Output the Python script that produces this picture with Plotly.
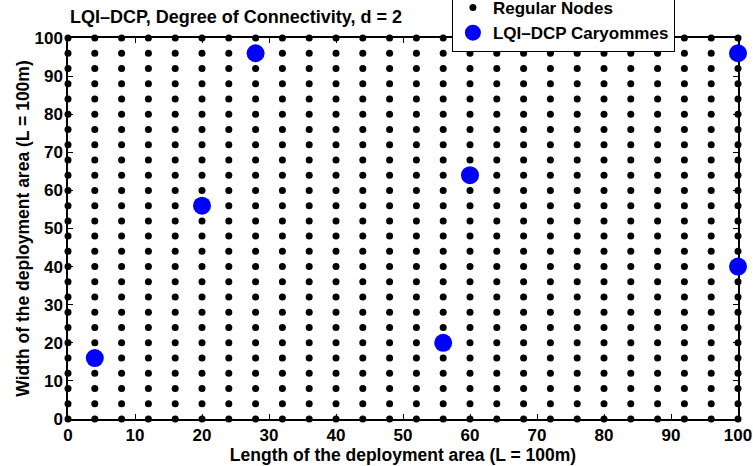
import plotly.graph_objects as go

grid_x = [i * 4 for i in range(26)]
grid_y = [i * 4 for i in range(26)]
node_x = [x for x in grid_x for y in grid_y]
node_y = [y for x in grid_x for y in grid_y]

car_x = [4, 20, 28, 56, 60, 100, 100]
car_y = [16, 56, 96, 20, 64, 96, 40]

ticks = [0, 10, 20, 30, 40, 50, 60, 70, 80, 90, 100]

FONT = "Liberation Sans"

fig = go.Figure()
fig.add_trace(go.Scatter(x=node_x, y=node_y, mode="markers", name="Regular Nodes",
                         marker=dict(color="black", size=7), cliponaxis=False))
fig.add_trace(go.Scatter(x=car_x, y=car_y, mode="markers", name="LQI–DCP Caryommes",
                         marker=dict(color="#0000ff", size=18), cliponaxis=False))

axis_common = dict(range=[0, 100], tickvals=ticks, ticks="inside", ticklen=5,
                   tickcolor="black", showline=True, linecolor="black", linewidth=1.5,
                   mirror="ticks", showgrid=False, zeroline=False, layer="below traces",
                   automargin=False,
                   tickfont=dict(family=FONT, size=17, color="black", weight="bold"))

fig.update_layout(
    width=753, height=466,
    margin=dict(l=68, r=15, t=38, b=47, autoexpand=False),
    paper_bgcolor="white", plot_bgcolor="white",
    xaxis=dict(**axis_common,
               title=dict(text="Length of the deployment area (L = 100m)", standoff=0,
                          font=dict(family=FONT, size=17.5, color="black", weight="bold"))),
    yaxis=dict(**axis_common,
               title=dict(text="Width of the deployment area (L = 100m)", standoff=0,
                          font=dict(family=FONT, size=17.5, color="black", weight="bold"))),
    legend=dict(x=0.573, y=0.9633, xanchor="left", yanchor="bottom",
                bgcolor="white", bordercolor="black", borderwidth=1,
                font=dict(family=FONT, size=17, color="black", weight="bold"),
                tracegroupgap=0, itemsizing="trace"),
    showlegend=True,
    annotations=[dict(text="LQI–DCP, Degree of Connectivity, d = 2", xref="paper", yref="paper",
                      x=0, y=1.055, xanchor="left", yanchor="middle", showarrow=False,
                      font=dict(family=FONT, size=18, color="black", weight="bold"))],
)

fig.write_html("out.html", config={"displayModeBar": False},
               post_script="document.body.style.margin='0';")
